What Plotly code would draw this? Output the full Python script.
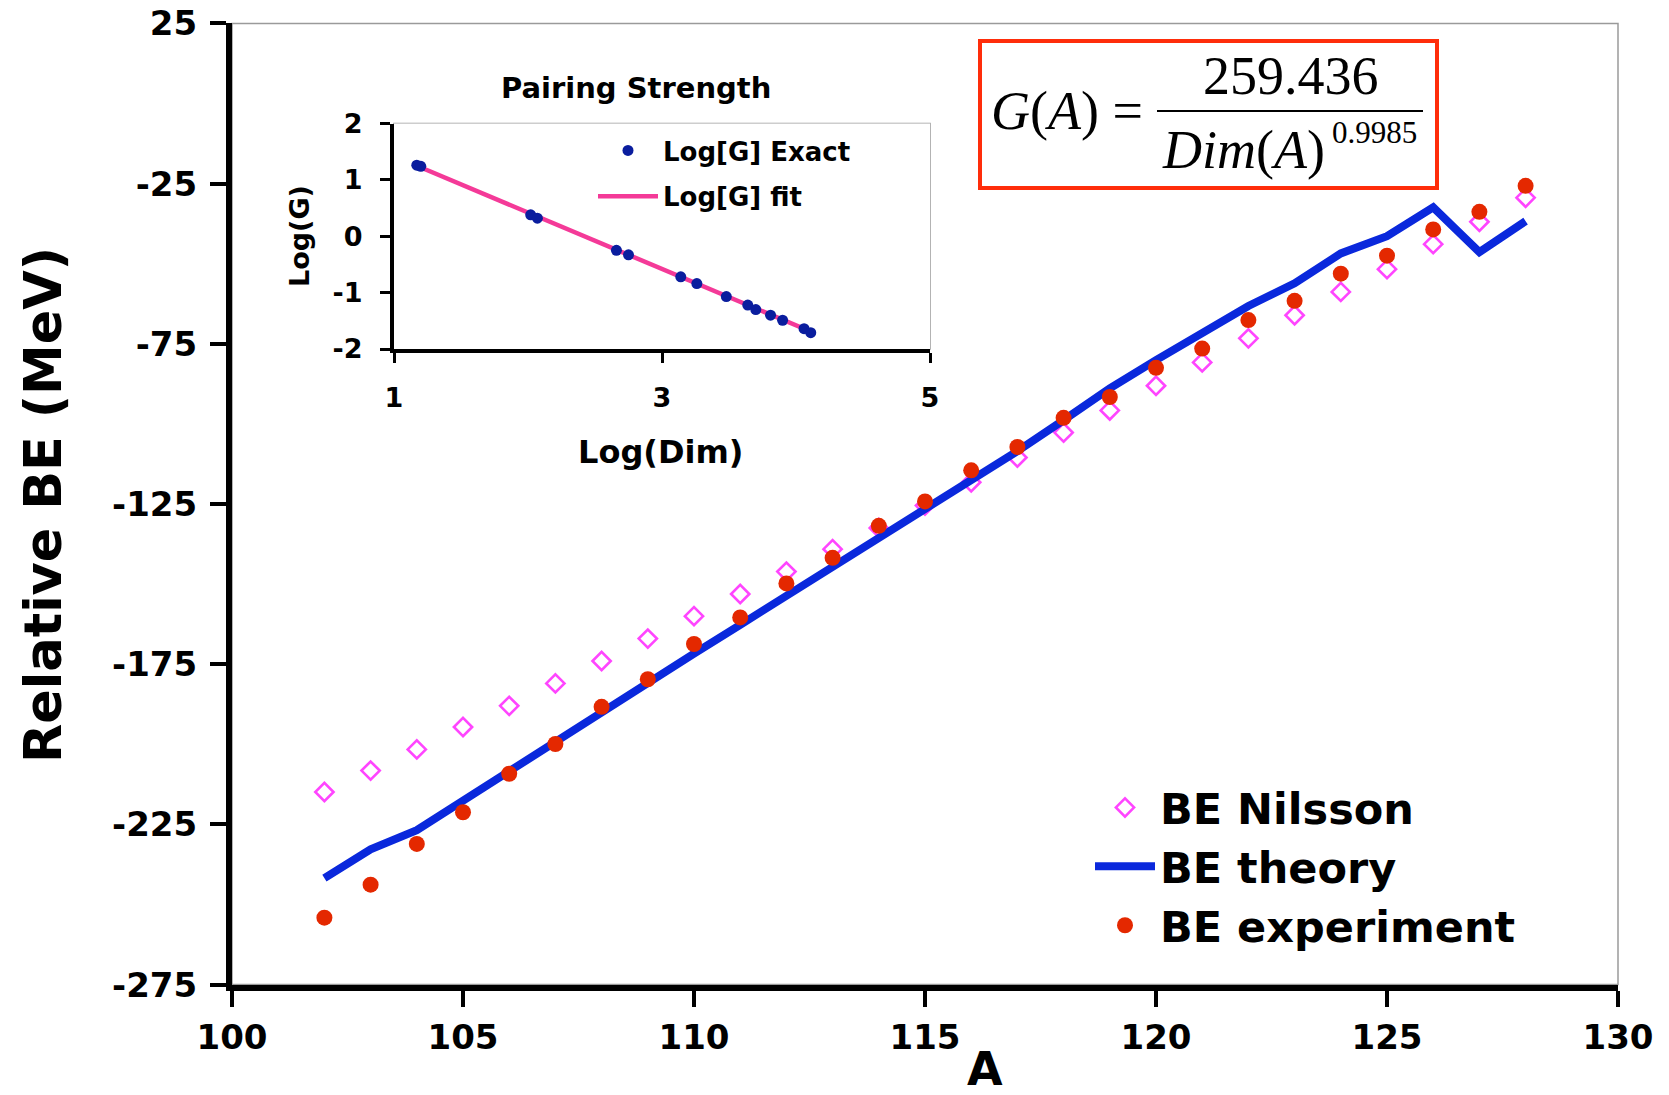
import plotly.graph_objects as go

# Mass number A
mass_number = list(range(102, 129))

# Relative binding energies (MeV)
be_nilsson = [-214.9, -208.2, -201.6, -194.6, -188.0, -181.0, -174.0, -167.0, -160.0,
              -153.1, -146.1, -139.1, -132.5, -125.5, -118.2, -110.5, -102.7, -95.8,
              -88.1, -80.8, -73.3, -66.1, -58.8, -51.7, -43.9, -36.9, -29.4]
be_theory = [-241.8, -232.8, -226.8, -217.5, -208.2, -199.3, -190.0, -181.0, -171.7,
             -162.7, -153.7, -144.4, -135.1, -126.2, -117.2, -108.5, -98.8, -88.9,
             -80.1, -71.5, -63.2, -56.1, -46.8, -41.4, -32.4, -46.4, -36.7]
be_experiment = [-254.1, -243.8, -231.1, -221.2, -209.2, -199.9, -188.3, -179.7, -168.7,
                 -160.4, -149.8, -141.8, -131.8, -124.2, -114.5, -107.2, -98.1, -91.6,
                 -82.5, -76.5, -67.6, -61.6, -53.1, -47.5, -39.3, -33.8, -25.7]

# Pairing strength inset: log10 of dimension vs log10 of G
log_dim = [1.17, 1.20, 2.02, 2.07, 2.66, 2.75, 3.14, 3.26, 3.48, 3.64, 3.70, 3.81, 3.90, 4.06, 4.11]
log_g_exact = [1.26, 1.24, 0.38, 0.32, -0.25, -0.33, -0.72, -0.84, -1.07, -1.22, -1.30, -1.40, -1.49, -1.64, -1.71]
log_dim_fit = [1.17, 4.11]
log_g_fit = [1.25, -1.69]

main_ticks_y = [25, -25, -75, -125, -175, -225, -275]
main_ticks_x = [100, 105, 110, 115, 120, 125, 130]
inset_ticks_x = [1, 3, 5]
inset_ticks_y = [2, 1, 0, -1, -2]

W, H = 1669, 1095
FONT = "DejaVu Sans"
SERIF = "Liberation Serif"


def px_x(v):
    return v / W


def px_y(v):
    return 1 - v / H


def labels(vals):
    # plain hyphen-minus labels
    return [str(v) for v in vals]


fig = go.Figure()

fig.add_trace(go.Scatter(
    x=mass_number, y=be_nilsson, mode="markers", name="BE Nilsson",
    marker=dict(symbol="diamond-open", size=14, color="#ff45ff", line=dict(width=2.6, color="#ff45ff")),
    legend="legend",
))
fig.add_trace(go.Scatter(
    x=mass_number, y=be_theory, mode="lines", name="BE theory",
    line=dict(color="#0a28dc", width=8), legend="legend",
))
fig.add_trace(go.Scatter(
    x=mass_number, y=be_experiment, mode="markers", name="BE experiment",
    marker=dict(symbol="circle", size=16, color="#e42800"), legend="legend",
))

# Inset traces
fig.add_trace(go.Scatter(
    x=log_dim_fit, y=log_g_fit, mode="lines", name="Log[G] fit",
    line=dict(color="#f43a98", width=4.5), xaxis="x2", yaxis="y2",
    legend="legend2", legendgroup="fit", legendrank=2,
))
fig.add_trace(go.Scatter(
    x=log_dim, y=log_g_exact, mode="markers", name="Log[G] Exact",
    marker=dict(symbol="circle", size=11, color="#0a1d9e"), xaxis="x2", yaxis="y2",
    legend="legend2", legendgroup="exact", legendrank=1,
))

main_left, main_right, main_top, main_bottom = 232, 1618, 23.4, 984.6
ins_left, ins_right, ins_top, ins_bottom = 394, 930, 123.5, 349

axis_common = dict(showgrid=False, zeroline=False, showline=True, linecolor="black",
                   ticks="outside", tickcolor="black", tickmode="array")

fig.update_layout(
    width=W, height=H,
    margin=dict(l=0, r=0, t=0, b=0, autoexpand=False),
    paper_bgcolor="white", plot_bgcolor="white",
    font=dict(family=FONT, color="black"),
    xaxis=dict(
        domain=[px_x(main_left), px_x(main_right)], range=[100, 130],
        tickvals=main_ticks_x, ticktext=labels(main_ticks_x),
        ticklen=16, tickwidth=4, linewidth=6,
        tickfont=dict(family=FONT, size=34, weight="bold"), ticklabelstandoff=2,
        anchor="y", **axis_common,
    ),
    yaxis=dict(
        domain=[px_y(main_bottom), px_y(main_top)], range=[-275, 25],
        tickvals=main_ticks_y, ticktext=labels(main_ticks_y),
        ticklen=16, tickwidth=4, linewidth=6,
        tickfont=dict(family=FONT, size=34, weight="bold"), ticklabelstandoff=6,
        anchor="x", **axis_common,
    ),
    xaxis2=dict(
        domain=[px_x(ins_left), px_x(ins_right)], range=[1, 5],
        tickvals=inset_ticks_x, ticktext=labels(inset_ticks_x),
        ticklen=10, tickwidth=3, linewidth=4,
        tickfont=dict(family=FONT, size=27, weight="bold"), ticklabelstandoff=12,
        anchor="y2", **axis_common,
    ),
    yaxis2=dict(
        domain=[px_y(ins_bottom), px_y(ins_top)], range=[-2, 2],
        tickvals=inset_ticks_y, ticktext=labels(inset_ticks_y),
        ticklen=10, tickwidth=3, linewidth=4,
        tickfont=dict(family=FONT, size=27, weight="bold"), ticklabelstandoff=12,
        anchor="x2", **axis_common,
    ),
    legend=dict(
        x=px_x(1090), y=px_y(773), xanchor="left", yanchor="top",
        bgcolor="rgba(0,0,0,0)", itemwidth=60, traceorder="normal",
        font=dict(family=FONT, size=43, weight="bold", color="black"),
    ),
    legend2=dict(
        x=px_x(593), y=px_y(127), xanchor="left", yanchor="top",
        bgcolor="rgba(0,0,0,0)", itemwidth=60, tracegroupgap=9,
        traceorder="grouped",
        font=dict(family=FONT, size=26, weight="bold", color="black"),
    ),
    showlegend=True,
)

shapes = [
    # thin gray frame of the main plot area
    dict(type="rect", xref="x domain", yref="y domain", x0=0, x1=1, y0=0, y1=1,
         line=dict(color="#9a9a9a", width=1.5), layer="below"),
    # thin gray frame of the inset
    dict(type="rect", xref="x2 domain", yref="y2 domain", x0=0, x1=1, y0=0, y1=1,
         line=dict(color="#9a9a9a", width=1.5), layer="below"),
    # formula box
    dict(type="rect", xref="paper", yref="paper",
         x0=px_x(980), x1=px_x(1437), y0=px_y(188), y1=px_y(41),
         line=dict(color="#ff2d0a", width=4), fillcolor="white", layer="above"),
    # fraction bar
    dict(type="line", xref="paper", yref="paper",
         x0=px_x(1157), x1=px_x(1423), y0=px_y(111), y1=px_y(111),
         line=dict(color="black", width=2), layer="above"),
]

annotations = [
    dict(text="Relative BE (MeV)", textangle=-90, x=px_x(44), y=px_y(505),
         font=dict(family=FONT, size=51, weight="bold")),
    dict(text="A", x=px_x(985), y=px_y(1069),
         font=dict(family=FONT, size=46, weight="bold")),
    dict(text="Pairing Strength", x=px_x(636), y=px_y(88),
         font=dict(family=FONT, size=29, weight="bold")),
    dict(text="Log(Dim)", x=px_x(660), y=px_y(452),
         font=dict(family=FONT, size=32, weight="bold")),
    dict(text="Log(G)", textangle=-90, x=px_x(300), y=px_y(236),
         font=dict(family=FONT, size=27, weight="bold")),
    # G(A) = 259.436 / Dim(A)^0.9985
    dict(text="<i>G</i>(<i>A</i>) =", x=px_x(1067), y=px_y(111),
         font=dict(family=SERIF, size=54)),
    dict(text="259.436", x=px_x(1291), y=px_y(76),
         font=dict(family=SERIF, size=54)),
    dict(text="<i>Dim</i>(<i>A</i>)", x=px_x(1327), y=px_y(150),
         xanchor="right", font=dict(family=SERIF, size=54)),
    dict(text="0.9985", x=px_x(1330), y=px_y(133),
         xanchor="left", font=dict(family=SERIF, size=31)),
]
for a in annotations:
    a.setdefault("xref", "paper")
    a.setdefault("yref", "paper")
    a.setdefault("showarrow", False)
    a.setdefault("xanchor", "center")
    a.setdefault("yanchor", "middle")

fig.update_layout(shapes=shapes, annotations=annotations)

fig.write_html("out.html")
